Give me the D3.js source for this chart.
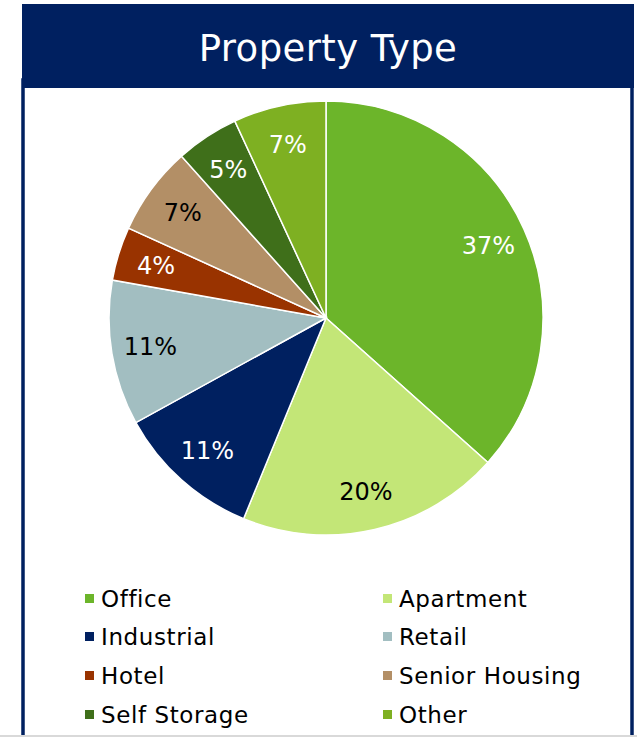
<!DOCTYPE html>
<html>
<head>
<meta charset="utf-8">
<script src="https://cdn.jsdelivr.net/npm/d3@7"></script>
<style>
  body { margin: 0; background: #fff; }
  svg { display: block; }
</style>
</head>
<body>
<script>
// data (share of portfolio, %)
const categories = ["Office", "Apartment", "Industrial", "Retail", "Hotel", "Senior Housing", "Self Storage", "Other"];
const shares = [36.6, 19.6, 10.8, 10.8, 4.0, 6.6, 4.7, 6.9];
const labels = ["37%", "20%", "11%", "11%", "4%", "7%", "5%", "7%"];
const colors = ["#6cb52a", "#c3e677", "#002060", "#a2bec1", "#993300", "#b38f66", "#3f6f1a", "#7eb022"];
const labelColors = ["#fff", "#000", "#fff", "#000", "#fff", "#000", "#fff", "#fff"];

const width = 637, height = 737;
const navy = "#002060";
const font = "Verdana, 'DejaVu Sans', sans-serif";

const svg = d3.select("body").append("svg")
    .attr("width", width)
    .attr("height", height);

// panel border
svg.append("rect")
    .attr("x", 23).attr("y", 80)
    .attr("width", 609).attr("height", 680)
    .attr("fill", "#fff")
    .attr("stroke", navy)
    .attr("stroke-width", 3.5);

// header band
svg.append("rect")
    .attr("x", 22).attr("y", 4)
    .attr("width", 612).attr("height", 84)
    .attr("fill", navy);

svg.append("text")
    .attr("x", 328).attr("y", 61)
    .attr("text-anchor", "middle")
    .attr("fill", "#fff")
    .attr("font-family", font)
    .attr("font-size", 37)
    .attr("letter-spacing", 0.4)
    .text("Property Type");

// bottom grey line
svg.append("line")
    .attr("x1", 0).attr("x2", width)
    .attr("y1", 736).attr("y2", 736)
    .attr("stroke", "#d9d9d9")
    .attr("stroke-width", 2);

// pie
const cx = 326, cy = 318, radius = 217;
const pie = d3.pie().sort(null).value(d => d);
const arc = d3.arc().innerRadius(0).outerRadius(radius);
const labelArc = d3.arc().innerRadius(radius * 0.82).outerRadius(radius * 0.82);

const g = svg.append("g").attr("transform", `translate(${cx},${cy})`);
const arcs = pie(shares);

g.selectAll("path")
    .data(arcs)
    .enter().append("path")
    .attr("d", arc)
    .attr("fill", (d, i) => colors[i])
    .attr("stroke", "#fff")
    .attr("stroke-width", 1.5);

g.selectAll("text")
    .data(arcs)
    .enter().append("text")
    .attr("transform", d => `translate(${labelArc.centroid(d)})`)
    .attr("text-anchor", "middle")
    .attr("dy", "0.35em")
    .attr("fill", (d, i) => labelColors[i])
    .attr("font-family", font)
    .attr("font-size", 24)
    .text((d, i) => labels[i]);

// legend, two columns
const colX = [85, 383];
const rowY = [599, 637, 676, 715];
const legend = svg.append("g");
categories.forEach((name, i) => {
    const x = colX[i % 2], y = rowY[Math.floor(i / 2)];
    legend.append("rect")
        .attr("x", x).attr("y", y - 5)
        .attr("width", 9).attr("height", 9)
        .attr("fill", colors[i]);
    legend.append("text")
        .attr("x", x + 16).attr("y", y)
        .attr("dy", "0.35em")
        .attr("fill", "#000")
        .attr("font-family", font)
        .attr("font-size", 23)
        .attr("letter-spacing", 0.6)
        .text(name);
});
</script>
</body>
</html>
